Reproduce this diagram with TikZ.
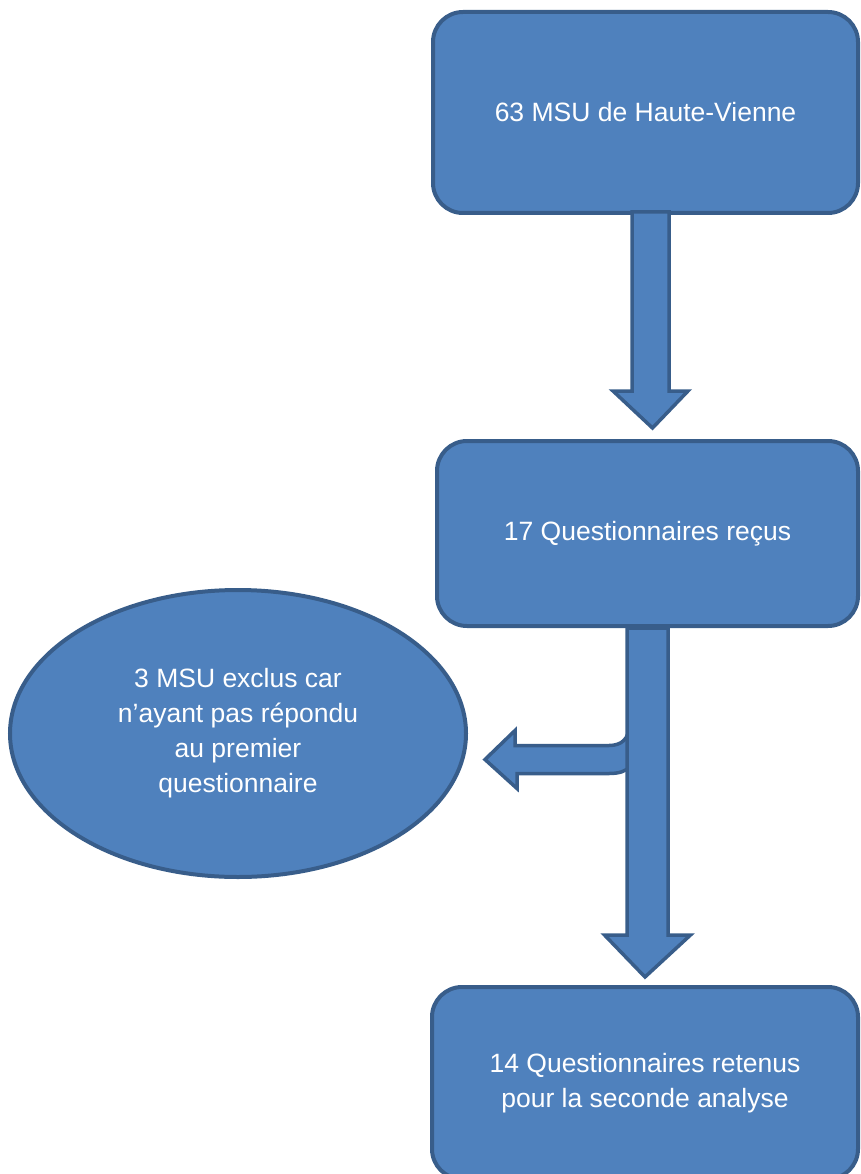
\documentclass[tikz,border=0pt]{standalone}
\usepackage{fontspec}
\setmainfont{Liberation Sans}
\usepackage{tikz}
\usetikzlibrary{
  shapes.geometric
  , calc
}
\definecolor{boxfill}{HTML}{4F81BD}
\definecolor{boxline}{HTML}{385D8A}

\begin{document}
\begin{tikzpicture}[x=1pt,y=-1pt]
      \tikzstyle{box template}=[draw=boxline, fill=boxfill, line width=4pt, rounded corners=30pt, text=white, align=center, font=\fontsize{26.5}{35}\selectfont]
      \tikzstyle{block arrow}=[draw=boxline, fill=boxfill, line width=3.5pt, line join=miter]

      \useasboundingbox (0,0) rectangle (860,1174);

      \node [box template, minimum width=425pt, minimum height=201pt] (msu) at (645.5,112.5){63 MSU de Haute-Vienne};
      \node [box template, minimum width=421pt, minimum height=185pt] (recus) at (647.5,533.5){17 Questionnaires re\c{c}us};
      \node [box template, minimum width=426pt, minimum height=192pt] (retenus) at (645,1083){14 Questionnaires retenus\\pour la seconde analyse};
      \node [box template, ellipse, rounded corners=0pt, minimum width=456pt, minimum height=287pt] (exclus) at (238,733.5){3 MSU exclus car\\n’ayant pas répondu\\au premier\\questionnaire};

      % branch to the excluded ones
      \coordinate (branchtip) at ($(exclus.east)+(17,26)$);
      \draw [block arrow] (branchtip) -- ++(30,-29) -- ++(0,15) -- ++(94,0)
        .. controls +(13,0) and +(0,13) .. ++(20,-20) -- ++(0,-47) -- ++(20,0) -- ++(0,87) -- ++(-18,0)
        .. controls +(-5,6) and +(10,0) .. ++(-22,8) -- ++(-92,0) -- ++(0,15) -- cycle;

      % main arrows
      \draw [block arrow] let \p1=($(msu.south)+(5,-3)$), \p2=($(recus.north)+(5,-11)$) in
        (\x1-18.5pt,\y1) -- (\x1+18.5pt,\y1) -- (\x1+18.5pt,\y2+37pt) -- (\x1+37.5pt,\y2+37pt)
        -- (\x2,\y2) -- (\x1-37.5pt,\y2+37pt) -- (\x1-18.5pt,\y2+37pt) -- cycle;
      \draw [block arrow] let \p1=($(recus.south)+(0,0)$), \p2=($(retenus.north)+(0,-8)$) in
        (\x1-20.5pt,\y1) -- (\x1+20.5pt,\y1) -- (\x1+20.5pt,\y2+42pt) -- (\x1+43pt,\y2+42pt)
        -- (\x2,\y2) -- (\x1-43pt,\y2+42pt) -- (\x1-20.5pt,\y2+42pt) -- cycle;

\end{tikzpicture}
\end{document}
